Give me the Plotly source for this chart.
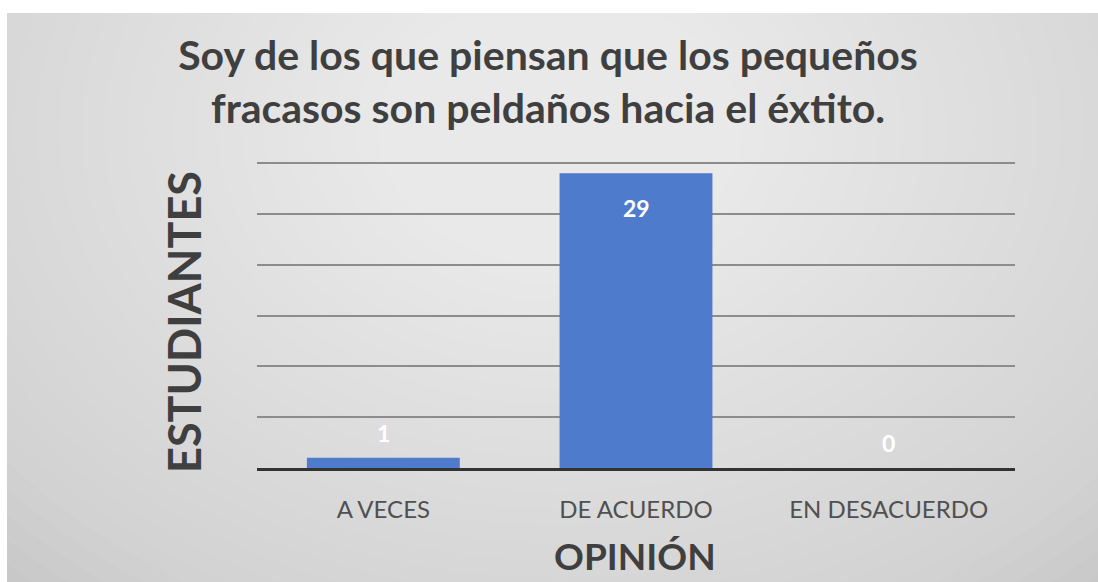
import plotly.graph_objects as go

categories = ["A VECES", "DE ACUERDO", "EN DESACUERDO"]
values = [1, 29, 0]
label_positions = ["outside", "inside", "outside"]

title_text = "Soy de los que piensan que los pequeños<br>fracasos son peldaños hacia el éxtito."
x_title = "OPINIÓN"
y_title = "ESTUDIANTES"

W, H = 1098, 582
L, R, T, B = 257, 1015, 158, 468
pw, ph = R - L, B - T
YMAX = 30
unit = (468 - 163) / YMAX          # pixels per student
ytop = ph / unit                    # axis top so that 30 sits at y=163

def px(x):
    return (x - L) / pw

def py(y):
    return (B - y) / ph

fig = go.Figure()
fig.add_trace(go.Bar(
    x=categories, y=values,
    marker=dict(color="#4f7bcc", line=dict(width=0)),
    width=0.605,
    hoverinfo="x+y",
))

annotations = []
for c, v, pos in zip(categories, values, label_positions):
    annotations.append(dict(
        x=c, y=v, xref="x", yref="y", text=str(v), showarrow=False,
        yshift=-35 if pos == "inside" else 25,
        font=dict(color="white", size=23, family="Lato", weight="bold"),
    ))
annotations.append(dict(
    text=y_title, textangle=-90, showarrow=False, xref="paper", yref="paper",
    x=px(184), y=py(322), xanchor="center", yanchor="middle",
    font=dict(family="Lato", size=45, color="#3f3f3f", weight="bold"),
))
annotations.append(dict(
    text=x_title, showarrow=False, xref="paper", yref="paper",
    x=px(635), y=py(555), xanchor="center", yanchor="middle",
    font=dict(family="Lato", size=37, color="#3f3f3f", weight="bold"),
))

shapes = []
shapes.append(dict(type="rect", xref="paper", yref="paper", layer="below",
                   x0=px(7), x1=px(W + 5), y0=py(H + 5), y1=py(13),
                   fillcolor="#c6c6c6", line=dict(width=0)))
cx, cy = 560, 130
n = 36
for i in range(n):
    f = 1 - i / n
    rx, ry = 820 * f, 620 * f
    shapes.append(dict(type="circle", xref="paper", yref="paper", layer="below",
                       x0=px(cx - rx), x1=px(cx + rx),
                       y0=py(cy + ry), y1=py(cy - ry),
                       fillcolor="rgba(255,255,255,0.045)", line=dict(width=0)))
shapes.append(dict(type="rect", xref="paper", yref="paper", layer="below",
                   x0=px(-50), x1=px(W + 50), y0=py(13), y1=py(-300),
                   fillcolor="white", line=dict(width=0)))
shapes.append(dict(type="rect", xref="paper", yref="paper", layer="below",
                   x0=px(-300), x1=px(7), y0=py(H + 50), y1=py(-50),
                   fillcolor="white", line=dict(width=0)))

fig.update_layout(
    width=W, height=H,
    margin=dict(l=L, r=W - R, t=T, b=H - B),
    paper_bgcolor="white",
    plot_bgcolor="rgba(0,0,0,0)",
    shapes=shapes,
    annotations=annotations,
    showlegend=False,
    title=dict(text=title_text, x=(548 - L) / pw, xref="paper", xanchor="center",
               y=1 - 70 / H, yanchor="middle",
               font=dict(family="Lato", size=41, color="#3f3f3f", weight="bold")),
    xaxis=dict(
        showgrid=False, showline=True, linecolor="#333333", linewidth=3,
        ticks="", ticklabelstandoff=18,
        tickfont=dict(family="Lato", size=24, color="#505050"),
    ),
    yaxis=dict(
        range=[0, ytop], tick0=0, dtick=5, showticklabels=False, ticks="",
        showgrid=True, gridcolor="#8c8c8c", gridwidth=1.5,
        zeroline=False, showline=False,
    ),
)

fig.write_html("out.html",
               config=dict(displayModeBar=False),
               post_script="document.body.style.margin='0';document.body.style.overflow='hidden';")
